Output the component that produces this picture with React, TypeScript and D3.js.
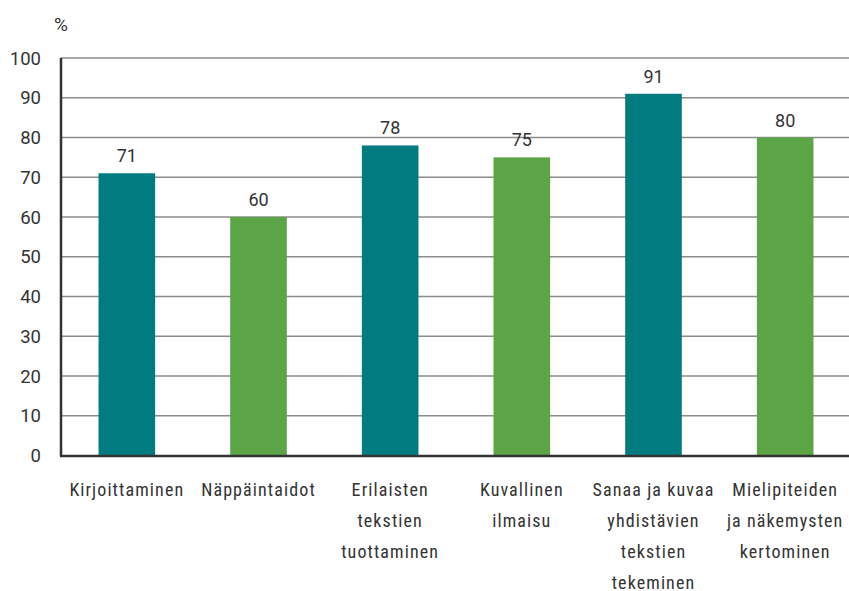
import React from "react";
import * as d3 from "d3";

const categories = [
  ["Kirjoittaminen"],
  ["Näppäintaidot"],
  ["Erilaisten", "tekstien", "tuottaminen"],
  ["Kuvallinen", "ilmaisu"],
  ["Sanaa ja kuvaa", "yhdistävien", "tekstien", "tekeminen"],
  ["Mielipiteiden", "ja näkemysten", "kertominen"],
];
const values = [71, 60, 78, 75, 91, 80];
const colors = ["#007C80", "#5BA546", "#007C80", "#5BA546", "#007C80", "#5BA546"];
const yTicks = [0, 10, 20, 30, 40, 50, 60, 70, 80, 90, 100];

export default function App() {
  const W = 849, H = 591;
  const x = d3.scaleBand<number>().domain(d3.range(values.length)).range([61, 851]).paddingInner(0.57).paddingOuter(0.285);
  const y = d3.scaleLinear().domain([0, 100]).range([455.5, 58]);
  const font = "Roboto, sans-serif";
  const condensed = "'Roboto Condensed', 'Liberation Sans Narrow', Roboto, sans-serif";
  return (
    <svg width={W} height={H} style={{ position: "absolute", left: 0, top: 0, background: "#fff" }}>
      {yTicks.filter(t => t > 0).map(t => (
        <line key={t} x1={61} x2={W} y1={y(t)} y2={y(t)} stroke="#8c8c8c" strokeWidth={1.5} />
      ))}
      {values.map((v, i) => (
        <rect key={i} x={x(i)} y={y(v)} width={x.bandwidth()} height={y(0) - y(v)} fill={colors[i]} />
      ))}
      {values.map((v, i) => (
        <text key={i} x={(x(i) as number) + x.bandwidth() / 2} y={y(v) - 11} textAnchor="middle" fontFamily={font} fontSize={18} fill="#333">{v}</text>
      ))}
      <line x1={61} x2={61} y1={58} y2={456.5} stroke="#333" strokeWidth={2.5} />
      <line x1={60} x2={W} y1={456} y2={456} stroke="#333" strokeWidth={2.5} />
      {yTicks.map(t => (
        <text key={t} x={41} y={y(t)} dy="0.36em" textAnchor="end" fontFamily={font} fontSize={18.5} fill="#333">{t}</text>
      ))}
      <text x={54} y={31} fontFamily={font} fontSize={19} fill="#333">%</text>
      {categories.map((lines, i) => (
        <text key={i} textAnchor="middle" fontFamily={condensed} fontSize={18} fill="#333" letterSpacing={1.1}>
          {lines.map((l, j) => (
            <tspan key={j} x={(x(i) as number) + x.bandwidth() / 2} y={496 + j * 31}>{l}</tspan>
          ))}
        </text>
      ))}
    </svg>
  );
}
